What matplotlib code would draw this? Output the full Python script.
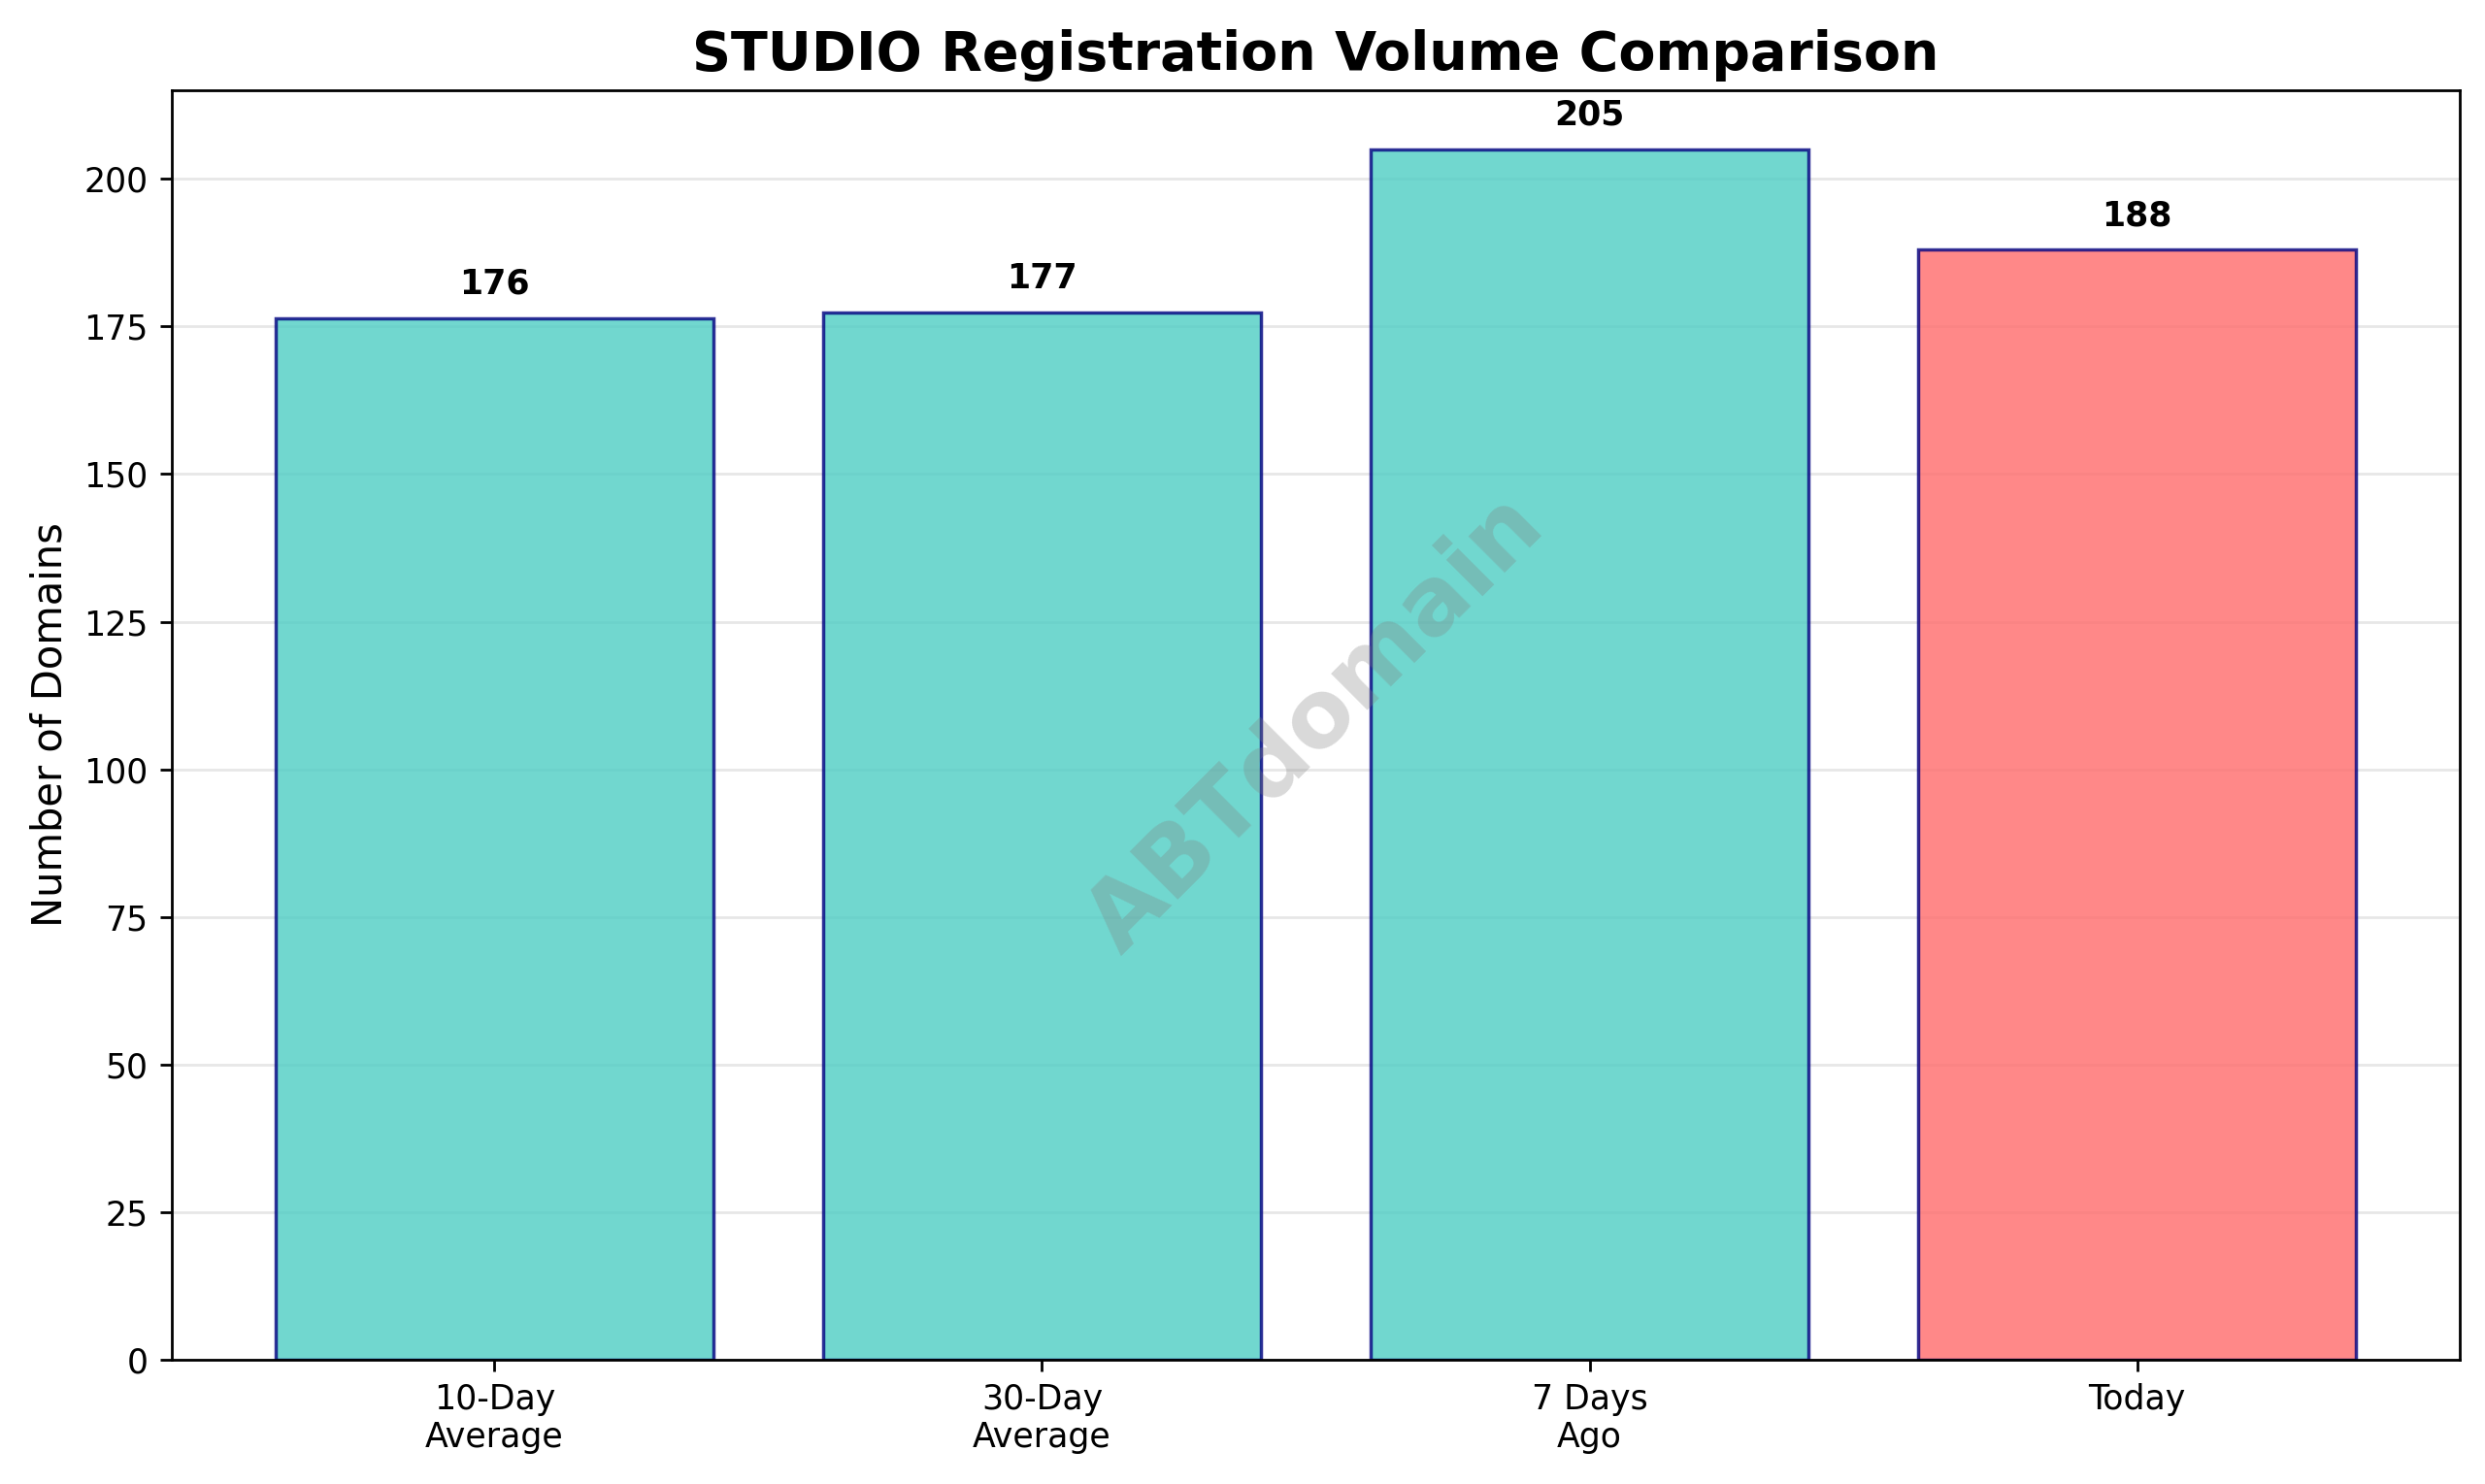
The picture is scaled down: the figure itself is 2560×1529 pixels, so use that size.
import matplotlib.pyplot as plt

categories = ['10-Day\nAverage', '30-Day\nAverage', '7 Days\nAgo', 'Today']
values = [176.4, 177.4, 205, 188]
labels = ['176', '177', '205', '188']
bar_colors = ['#4ECDC4', '#4ECDC4', '#4ECDC4', '#FF6B6B']

fig = plt.figure(figsize=(10.24, 6.116), dpi=250)
ax = fig.add_axes([0.069, 0.084, 0.921, 0.855])

bars = ax.bar(categories, values, color=bar_colors, alpha=0.8,
              edgecolor='navy', linewidth=1)
for bar, lab in zip(bars, labels):
    ax.text(bar.get_x() + bar.get_width() / 2, bar.get_height() + 3, lab,
            ha='center', va='bottom', fontweight='bold', fontsize=10)

ax.set_ylim(0, 215)
ax.set_ylabel('Number of Domains', fontsize=12)
ax.set_title('STUDIO Registration Volume Comparison', fontsize=16, fontweight='bold')
ax.grid(True, axis='y', alpha=0.3)
ax.set_axisbelow(True)

ax.text(0.5, 0.5, 'ABTdomain', transform=ax.transAxes, fontsize=28,
        color='gray', alpha=0.3, rotation=45, ha='center', va='center',
        fontweight='bold')

fig.savefig('out.png', dpi=250)
